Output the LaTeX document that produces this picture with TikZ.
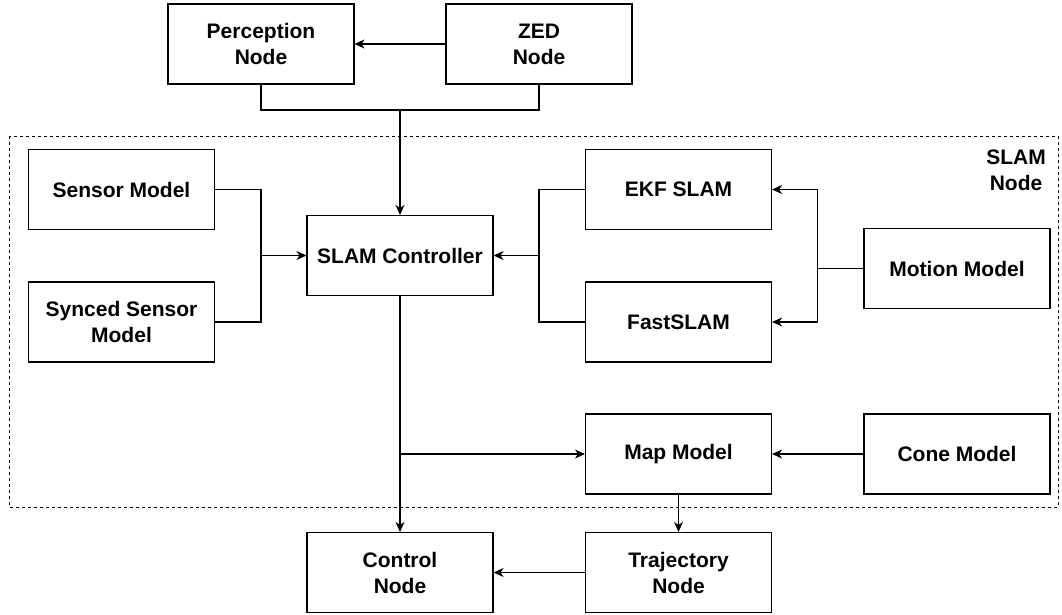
\documentclass[tikz,border=0pt]{standalone}
\usepackage{fontspec}
\setmainfont{Liberation Sans}
\usetikzlibrary{arrows.meta}
\tikzset{
  blk/.style={draw, line width=1.1pt, minimum width=186pt, minimum height=80pt,
              inner sep=0pt, align=center, font=\fontsize{21}{26}\selectfont\bfseries},
  wire/.style={line width=1.1pt},
  arr/.style={wire, -{Stealth[length=10pt,width=9pt,inset=3pt]}},
  group/.style={draw, line width=0.9pt, dash pattern=on 3pt off 3pt}
}
\begin{document}
\begin{tikzpicture}[x=1pt,y=-1pt]
\useasboundingbox (0,0) rectangle (1062,614);

% SLAM node frame
\draw[group] (9,136) rectangle (1058,507);
\node[align=center, font=\fontsize{21}{26}\selectfont\bfseries] (slamlbl) at (1016,170) {SLAM\\Node};

% blocks
\node[blk] (perc) at (261,44) {Perception\\Node};
\node[blk] (zed) at (539,44) {ZED\\Node};
\node[blk] (sens) at (121.5,189.5) {Sensor Model};
\node[blk] (sync) at (121.5,322) {Synced Sensor\\Model};
\node[blk] (ctrl) at (400,255.5) {SLAM Controller};
\node[blk] (ekf) at (678.5,189.5) {EKF SLAM};
\node[blk] (fast) at (678.5,322) {FastSLAM};
\node[blk] (motion) at (957,268.5) {Motion Model};
\node[blk] (map) at (678.5,454) {Map Model};
\node[blk] (cone) at (957,454) {Cone Model};
\node[blk] (control) at (400,572.5) {Control\\Node};
\node[blk] (traj) at (678.5,572.5) {Trajectory\\Node};

% junction points
\coordinate (topj) at (400,110);
\coordinate (lj) at (261,255.5);
\coordinate (rj) at (539,255.5);
\coordinate (mj) at (817.5,268.5);
\coordinate (bj) at (400,454);

% connectors
\draw[arr] (zed.west) -- (perc.east);
\draw[wire] (perc.south) |- (topj) -| (zed.south);
\draw[arr] (topj) -- (ctrl.north);

\draw[wire] (sens.east) -| (lj) |- (sync.east);
\draw[arr] (lj) -- (ctrl.west);

\draw[wire] (ekf.west) -| (rj) |- (fast.west);
\draw[arr] (rj) -- (ctrl.east);

\draw[wire] (motion.west) -- (mj);
\draw[arr] (mj) |- (ekf.east);
\draw[arr] (mj) |- (fast.east);

\draw[arr] (ctrl.south) -- (control.north);
\draw[arr] (bj) -- (map.west);
\draw[arr] (cone.west) -- (map.east);
\draw[arr] (map.south) -- (traj.north);
\draw[arr] (traj.west) -- (control.east);
\end{tikzpicture}
\end{document}
